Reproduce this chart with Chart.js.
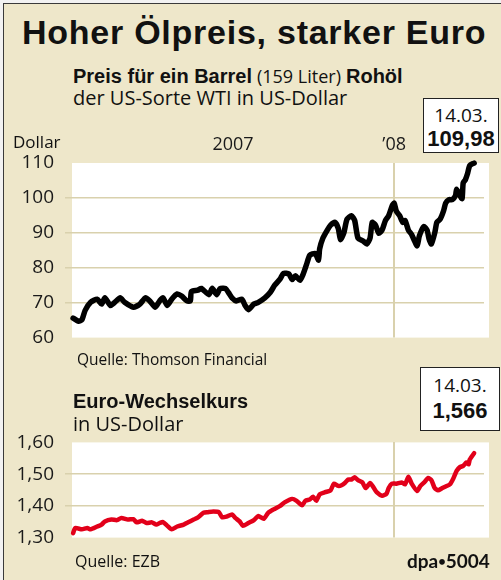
<!DOCTYPE html>
<html>
<head>
<meta charset="utf-8">
<script src="https://cdn.jsdelivr.net/npm/chart.js@4/dist/chart.umd.min.js"></script>
<style>
  html, body { margin: 0; padding: 0; }
  body { width: 501px; height: 580px; background: #f2f2f2; position: relative; overflow: hidden; }
  #frame {
    position: absolute; left: 3px; top: 3px; width: 498px; height: 577px;
    background: #eee7ca; border-left: 1px solid #3a3a3a; border-top: 1px solid #3a3a3a;
  }
  .t { position: absolute; line-height: 1; white-space: nowrap; color: #111; z-index: 2; }
  .b { font-family: "Liberation Sans", Arial, sans-serif; font-weight: bold; }
  .r { font-family: "Open Sans", sans-serif; }
  .box {
    position: absolute; background: #fff; border: 1px solid #222; z-index: 2;
    box-sizing: border-box; text-align: center;
  }
  canvas { position: absolute; left: 0; z-index: 1; }
</style>
</head>
<body>
<div id="frame"></div>

<div class="t b" style="left:22px; top:15px; font-size:34px; letter-spacing:0.75px;">Hoher Ölpreis, starker Euro</div>
<div class="t" style="left:73px; top:66px; font-size:20px;"><span class="b">Preis für ein Barrel</span> <span class="r" style="font-size:18px;">(159 Liter)</span> <span class="b">Rohöl</span></div>
<div class="t r" style="left:73px; top:88px; font-size:20px;">der US-Sorte WTI in US-Dollar</div>
<div class="t r" style="left:13px; top:133px; font-size:17px;">Dollar</div>

<div class="box" style="left:423px; top:98px; width:76px; height:55px;">
  <div class="t r" style="left:0; width:74px; top:7px; font-size:19px;">14.03.</div>
  <div class="t b" style="left:0; width:74px; top:29px; font-size:22px;">109,98</div>
</div>

<div class="t r" style="left:77px; top:352px; font-size:15.5px;">Quelle: Thomson Financial</div>

<div class="t b" style="left:73px; top:391px; font-size:20px;">Euro-Wechselkurs</div>
<div class="t r" style="left:73px; top:414px; font-size:20px;">in US-Dollar</div>

<div class="box" style="left:420px; top:367px; width:80px; height:64px;">
  <div class="t r" style="left:0; width:78px; top:8px; font-size:19px;">14.03.</div>
  <div class="t b" style="left:0; width:78px; top:32px; font-size:22px;">1,566</div>
</div>

<div class="t r" style="left:75px; top:553px; font-size:16px;">Quelle: EZB</div>
<div class="t" style="left:407px; top:551px; font-size:19px; font-family:Lato, sans-serif; font-weight:bold;">dpa<span style="font-size:13px; position:relative; top:-2px;">•</span>5004</div>

<canvas id="oilChart" width="501" height="240" style="top:120px;"></canvas>
<canvas id="euroChart" width="501" height="140" style="top:420px;"></canvas>

<script>
// ─────────────────────────────────────
// DATA  (days counted from 14.03.2007)
// ─────────────────────────────────────

const yearTicks = [146, 293];
const yearLabels = ["2007", "\u201908"];

const oilDays = [
    0, 5, 8, 11, 16, 22, 26, 29, 34, 38, 43, 47, 55, 61, 66, 70, 75, 79, 82, 86,
    90, 95, 99, 104, 107, 108, 114, 117, 124, 127, 131, 134, 139, 142, 145, 149, 154, 157, 160, 165,
    169, 175, 180, 184, 189, 192, 197, 200, 203, 207, 210, 213, 216, 221, 224, 225, 228, 232, 235, 239,
    242, 244, 247, 250, 254, 257, 260, 265, 268, 271, 273, 276, 279, 282, 285, 288, 291, 293, 295, 298,
    301, 303, 306, 309, 311, 314, 316, 320, 323, 325, 327, 330, 332, 335, 338, 340, 343, 346, 349, 350,
    353, 355, 356, 358, 360, 362, 366
];
const oilValues = [
    65.6, 64.7, 65.1, 67.8, 70.1, 71.0, 69.6, 71.4, 69.2, 70.1, 71.4, 70.1, 68.7, 69.6, 71.4, 70.5, 68.7, 70.5, 71.4, 69.2,
    71.0, 72.5, 71.9, 70.5, 70.5, 73.2, 73.6, 74.1, 72.3, 74.1, 72.3, 74.0, 74.1, 72.8, 71.4, 70.5, 71.0, 69.2, 68.0, 69.6,
    70.1, 71.4, 73.0, 75.0, 76.8, 78.4, 78.2, 76.6, 77.7, 76.4, 78.2, 80.9, 83.6, 84.1, 82.2, 85.4, 88.5, 90.8, 92.2, 93.0,
    91.3, 88.1, 89.9, 93.9, 94.9, 93.5, 88.5, 87.6, 86.8, 88.5, 93.0, 92.2, 89.9, 90.8, 93.5, 94.9, 97.6, 98.5, 96.2, 94.9,
    93.0, 93.5, 90.8, 89.5, 88.1, 86.3, 89.1, 91.8, 90.8, 88.1, 86.8, 89.9, 93.0, 93.9, 96.2, 98.5, 99.5, 99.5, 100.7, 102.5,
    100.7, 99.8, 104.3, 105.2, 107.0, 109.3, 109.98
];

const euroDays = [
    0, 2, 8, 13, 16, 22, 26, 29, 35, 40, 44, 50, 55, 58, 63, 67, 72, 76, 79, 82,
    86, 90, 95, 101, 105, 110, 114, 119, 123, 128, 133, 136, 140, 145, 148, 152, 155, 160, 165, 169,
    174, 178, 183, 189, 193, 200, 204, 209, 212, 216, 219, 222, 225, 230, 235, 238, 242, 245, 248, 251,
    254, 257, 260, 264, 267, 271, 274, 277, 282, 286, 288, 291, 295, 300, 303, 306, 309, 314, 317, 321,
    324, 327, 330, 333, 337, 340, 344, 347, 350, 353, 356, 359, 361, 362, 366
];
const euroValues = [
    1.314, 1.330, 1.326, 1.330, 1.326, 1.335, 1.341, 1.351, 1.357, 1.355, 1.362, 1.357, 1.358, 1.348, 1.353, 1.346, 1.348, 1.341, 1.346, 1.349,
    1.337, 1.326, 1.335, 1.341, 1.348, 1.357, 1.364, 1.378, 1.380, 1.382, 1.380, 1.364, 1.366, 1.373, 1.362, 1.351, 1.337, 1.346, 1.355, 1.368,
    1.359, 1.378, 1.389, 1.400, 1.411, 1.422, 1.416, 1.402, 1.416, 1.420, 1.429, 1.416, 1.436, 1.443, 1.449, 1.470, 1.463, 1.465, 1.472, 1.483,
    1.483, 1.490, 1.481, 1.474, 1.456, 1.472, 1.459, 1.443, 1.432, 1.438, 1.456, 1.470, 1.470, 1.474, 1.468, 1.492, 1.470, 1.447, 1.463, 1.476,
    1.488, 1.481, 1.456, 1.449, 1.456, 1.461, 1.468, 1.486, 1.510, 1.522, 1.526, 1.537, 1.531, 1.546, 1.566
];

// ─────────────────────────────────────
// COMMON STYLE
// ─────────────────────────────────────

Chart.defaults.font.family = "'Open Sans', sans-serif";
Chart.defaults.color = "#1a1a1a";

const gridColor = "#d9d1ad";
const dayMin = -1;
const dayMax = 375;

// white plot background, a bit wider than the grid
const plotBackground = {
    id: "plotBackground",
    beforeDraw(chart) {
        const a = chart.chartArea;
        chart.ctx.save();
        chart.ctx.fillStyle = "#ffffff";
        chart.ctx.fillRect(a.left, a.top, a.right - a.left + 5, a.bottom - a.top);
        chart.ctx.restore();
    }
};

function toPoints(days, values) {
    return days.map((d, i) => ({ x: d, y: values[i] }));
}

function yAxis(min, max, step, fmt) {
    return {
        min: min,
        max: max,
        ticks: {
            stepSize: step,
            padding: 11,
            font: { size: 19 },
            callback: fmt
        },
        grid: {
            lineWidth: 1.5,
            tickLength: 7,
            color: ctx => {
                const v = ctx.tick ? ctx.tick.value : null;
                if (v === null || Math.abs(v - min) < 1e-6 || Math.abs(v - max) < 1e-6) return "transparent";
                return gridColor;
            }
        },
        border: { display: false },
        afterFit: scale => { scale.width = 72; }
    };
}

function xAxis(showLabels, height) {
    return {
        type: "linear",
        position: "top",
        min: dayMin,
        max: dayMax,
        afterBuildTicks: scale => {
            scale.ticks = yearTicks.map(v => ({ value: v }));
        },
        ticks: {
            display: showLabels,
            padding: 7,
            maxRotation: 0,
            font: { size: 18 },
            callback: (value, index) => yearLabels[index]
        },
        grid: {
            drawTicks: false,
            lineWidth: 2,
            color: ctx => (ctx.tick && ctx.tick.value === 293) ? gridColor : "transparent"
        },
        border: { display: false },
        afterFit: scale => { scale.height = height; }
    };
}

// ─────────────────────────────────────
// OIL CHART
// ─────────────────────────────────────

new Chart(document.getElementById("oilChart"), {
    type: "line",
    data: {
        datasets: [{
            data: toPoints(oilDays, oilValues),
            borderColor: "#000000",
            borderWidth: 5.5,
            borderJoinStyle: "round",
            borderCapStyle: "round",
            pointRadius: 0,
            tension: 0.2,
            clip: 8
        }]
    },
    options: {
        responsive: false,
        animation: false,
        layout: { padding: { left: 0, right: 17, top: 0, bottom: 12 } },
        plugins: { legend: { display: false }, tooltip: { enabled: false } },
        scales: {
            x: xAxis(true, 43),
            y: yAxis(60, 110, 10, v => v)
        }
    },
    plugins: [plotBackground]
});

// ─────────────────────────────────────
// EURO CHART
// ─────────────────────────────────────

new Chart(document.getElementById("euroChart"), {
    type: "line",
    data: {
        datasets: [{
            data: toPoints(euroDays, euroValues),
            borderColor: "#e2001a",
            borderWidth: 4.5,
            borderJoinStyle: "round",
            borderCapStyle: "round",
            pointRadius: 0,
            tension: 0.2,
            clip: 8
        }]
    },
    options: {
        responsive: false,
        animation: false,
        layout: { padding: { left: 0, right: 17, top: 0, bottom: 13 } },
        plugins: { legend: { display: false }, tooltip: { enabled: false } },
        scales: {
            x: xAxis(false, 17),
            y: yAxis(1.3, 1.6, 0.1, v => v.toFixed(2).replace(".", ","))
        }
    },
    plugins: [plotBackground]
});
</script>
</body>
</html>
